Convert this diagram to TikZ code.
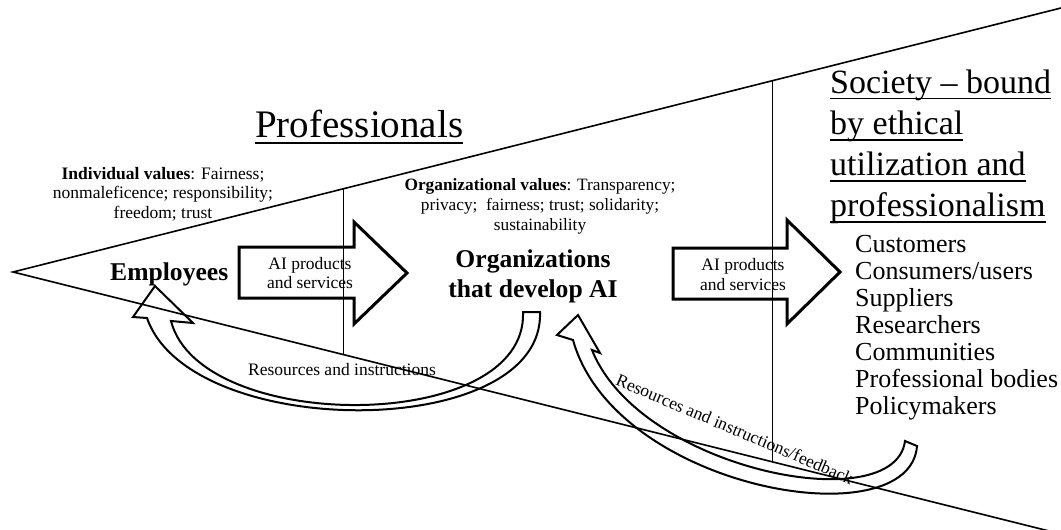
\documentclass[tikz,border=0pt]{standalone}
\usepackage{fontspec}
\setmainfont{Liberation Serif}
\usetikzlibrary{calc}
% underline at a fixed depth below the baseline, crossing descenders
\newcommand{\ulword}[1]{\setbox0=\hbox{#1}\rlap{\rule[-0.19em]{\wd0}{0.055em}}\box0}

\begin{document}
\begin{tikzpicture}[x=1pt,y=-1pt,
  edge/.style={line width=1.6pt},
  divider/.style={line width=0.9pt},
  blockarrow/.style={line width=3pt, line join=miter},
  bandarrow/.style={line width=2pt, line join=miter},
  txt/.style={inner sep=0pt, text=black},
  small/.style={font=\fontsize{17.5}{19.5}\selectfont},
  big/.style={font=\fontsize{25.6}{30}\selectfont\bfseries},
]
\useasboundingbox (0,0) rectangle (1061,530);

% the wedge: apex on the left, opening to the right
\coordinate (apex) at (13,272);
\coordinate (topR) at (1061,8);
\coordinate (botR) at (1061,534);
\draw[edge] (topR) -- (apex) -- (botR);

% separators between the three zones
\coordinate (d1t) at ($(apex)!0.3149!(topR)$);
\coordinate (d1b) at ($(apex)!0.3149!(botR)$);
\coordinate (d2t) at ($(apex)!0.7242!(topR)$);
\coordinate (d2b) at ($(apex)!0.7242!(botR)$);
\draw[divider] (d1t) -- (d1b);
\draw[divider] (d2t) -- (d2b);

% headings
\node[txt, anchor=base west, font=\fontsize{39}{47}\selectfont] (prof) at (255,137) {\ulword{Professionals}};
\foreach \t [count=\i from 0] in {Society \textendash\ bound, by ethical, utilization and, professionalism}
  \node[txt, anchor=base west, font=\fontsize{34}{41}\selectfont] (soc\i) at (830,93+41.3*\i) {\ulword{\t}};

% stakeholder list
\foreach \t [count=\i from 0] in {Customers, Consumers/users, Suppliers, Researchers, Communities, Professional bodies, Policymakers}
  \node[txt, anchor=base west, font=\fontsize{26}{27}\selectfont] (grp\i) at (855,252+27*\i) {\t};

% values
\node[txt, small, anchor=base] (indv) at (163,179)
  {\begin{tabular}[t]{@{}c@{}}\textbf{Individual values}: Fairness;\\nonmaleficence; responsibility;\\freedom; trust\end{tabular}};
\node[txt, font=\fontsize{17.3}{20}\selectfont, anchor=base] (orgv) at (540,190)
  {\begin{tabular}[t]{@{}c@{}}\textbf{Organizational values}: Transparency;\\privacy;\ \ fairness; trust; solidarity;\\sustainability\end{tabular}};

% actors
\node[txt, big, anchor=base west] (emp) at (110,280) {Employees};
\node[txt, big, anchor=base] (org) at (533,267)
  {\begin{tabular}[t]{@{}c@{}}Organizations\\that develop AI\end{tabular}};

% block arrows: products and services flowing right
\draw[blockarrow] (239,247) -- (354,247) -- (354,222) -- (407,273) -- (354,324) -- (354,298) -- (239,298) -- cycle;
\node[txt, small, anchor=base] (ai1) at (310,269)
  {\begin{tabular}[t]{@{}c@{}}AI products\\and services\end{tabular}};

\draw[blockarrow] (673,248) -- (787,248) -- (787,220) -- (840,272) -- (787,324) -- (787,299) -- (673,299) -- cycle;
\node[txt, font=\fontsize{17.5}{20}\selectfont, anchor=base] (ai2) at (743,270)
  {\begin{tabular}[t]{@{}c@{}}AI products\\and services\end{tabular}};

% curved band arrows: resources flowing back
\draw[bandarrow] (523,312) -- (540,312)
  .. controls (545,442) and (190,442) .. (147,318)
  -- (133,317) -- (155,286) -- (193,323) -- (171,321)
  .. controls (200,434.5) and (528,434.5) .. (523,312) -- cycle;
\node[txt, small, anchor=base] (res1) at (342,375) {Resources and instructions};

\draw[bandarrow] (905,441) -- (917,446)
  .. controls (910,540) and (615,490) .. (573,340)
  -- (557,335) -- (578,315) -- (600,353) -- (592,350)
  .. controls (640,470) and (895,520) .. (905,441) -- cycle;
\node[txt, small, rotate=-23] (res2) at (735,429) {Resources and instructions/feedback};
\end{tikzpicture}
\end{document}
